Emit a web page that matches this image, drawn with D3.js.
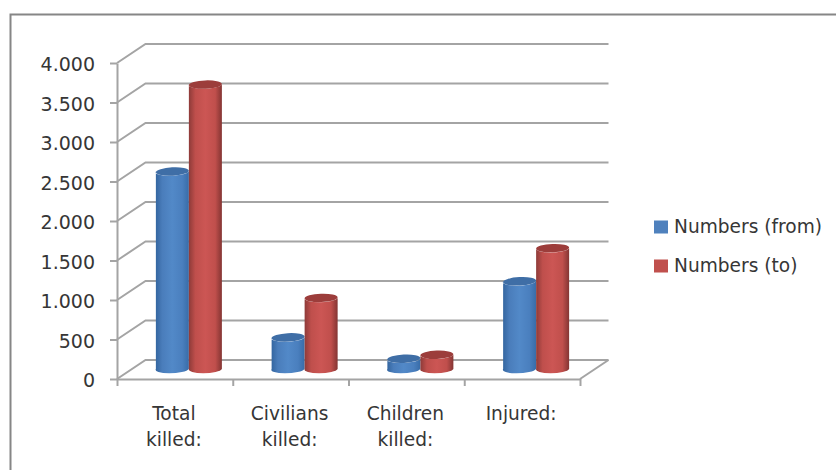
<!DOCTYPE html>
<html>
<head>
<meta charset="utf-8">
<script src="https://cdn.jsdelivr.net/npm/d3@7/dist/d3.min.js"></script>
<style>
html,body{margin:0;padding:0;background:#fff;overflow:hidden}
svg{display:block}
text{font-family:"DejaVu Sans",sans-serif;fill:#363636}
</style>
</head>
<body>
<svg id="chart" width="836" height="470"></svg>
<script>
// Casualty figures, low and high estimates per category
const categories = [["Total","killed:"],["Civilians","killed:"],["Children","killed:"],["Injured:"]];
const numbersFrom = [2500, 400, 130, 1110];
const numbersTo = [3600, 900, 180, 1530];
const seriesNames = ["Numbers (from)", "Numbers (to)"];
const yTicks = [0, 500, 1000, 1500, 2000, 2500, 3000, 3500, 4000];

const svg = d3.select("#chart");
const depth = {x: 28.5, y: 19};
const gridColor = "#a4a4a4";

const y = d3.scaleLinear().domain([0, 4000]).range([379, 63]);
const x = d3.scaleBand().domain(d3.range(categories.length)).range([117, 580]);
const inner = d3.scaleBand().domain([0, 1]).range([0, 66]);
const fmt = d3.formatLocale({decimal: ",", thousands: ".", grouping: [3], currency: ["", ""]}).format(",");

// Gradients give the cylinders their rounded shading
const defs = svg.append("defs");
const palette = [
  {id: "blueSide", stops: ["#33659f", "#4a7dbb", "#5289c8", "#4a7fbe", "#386ca8"], cap: "#3f6ea6"},
  {id: "redSide", stops: ["#8d3a38", "#bf4f4c", "#cc5654", "#c04f4c", "#843533"], cap: "#9c3d3b"}
];
palette.forEach(p => {
  const g = defs.append("linearGradient").attr("id", p.id);
  [0, 0.2, 0.5, 0.8, 1].forEach((o, i) => g.append("stop").attr("offset", o).attr("stop-color", p.stops[i]));
});

// Outer chart frame, open at the right and bottom page edges
svg.append("path").attr("d", "M10.5,470V14.5H836").attr("fill", "none")
  .attr("stroke", "#868686").attr("stroke-width", 2);

// Side wall, back wall gridlines
const walls = svg.append("g").attr("fill", "none").attr("stroke", gridColor).attr("stroke-width", 2);
yTicks.forEach(t => {
  walls.append("path").attr("d", d3.line()([
    [x.range()[0], y(t)],
    [x.range()[0] + depth.x, y(t) - depth.y],
    [x.range()[1] + depth.x, y(t) - depth.y]
  ]));
});
walls.append("path").attr("d", d3.line()([
  [x.range()[1], y(0)],
  [x.range()[1] + depth.x, y(0) - depth.y]
]));

// Value axis
const yAxis = svg.append("g").attr("transform", `translate(${x.range()[0]},0)`)
  .call(d3.axisLeft(y).tickValues(yTicks).tickFormat(fmt).tickSize(7).tickSizeOuter(0).tickPadding(15));
yAxis.selectAll("path,line").attr("stroke", gridColor).attr("stroke-width", 2);
yAxis.selectAll("text").attr("font-size", 19).attr("dy", "0.42em")
  .style("font-family", '"DejaVu Sans",sans-serif').attr("fill", "#363636");

// Category axis: ticks mark band edges
const edges = d3.range(categories.length + 1).map(i => x.range()[0] + i * x.step());
const xAxis = svg.append("g").attr("transform", `translate(0,${y(0)})`)
  .call(d3.axisBottom(d3.scaleLinear().domain(x.range()).range(x.range()))
    .tickValues(edges).tickFormat("").tickSize(7).tickSizeOuter(0));
xAxis.selectAll("path,line").attr("stroke", gridColor).attr("stroke-width", 2);

categories.forEach((lines, i) => {
  const t = svg.append("text").attr("text-anchor", "middle").attr("font-size", 18.6);
  lines.forEach((line, k) => {
    t.append("tspan").attr("x", x(i) + x.bandwidth() / 2 - 1)
      .attr("y", 420 + k * 25.5).text(line);
  });
});

// One cylinder per value; the front-to-back offset places it mid-depth on the floor
const rx = inner.bandwidth() / 2, ry = 4.2;
const offX = 14, offY = 10;
function cylinder(g, cx, v, p, tilt) {
  const x0 = cx - rx, x1 = cx + rx;
  const base = y(0) - offY, top = y(v) - offY;
  g.append("path")
    .attr("d", `M${x0},${top}L${x0},${base}A${rx},${ry} ${tilt} 0 0 ${x1},${base}L${x1},${top}A${rx},${ry} ${tilt} 0 1 ${x0},${top}Z`)
    .attr("fill", `url(#${p.id})`);
  g.append("ellipse").attr("cx", 0).attr("cy", 0).attr("rx", rx).attr("ry", ry)
    .attr("transform", `translate(${cx},${top}) rotate(${tilt})`)
    .attr("fill", p.cap);
}

const bars = svg.append("g");
categories.forEach((_, i) => {
  const start = x(i) + x.bandwidth() / 2 + offX - 33;
  cylinder(bars, start + inner(0) + rx, numbersFrom[i], palette[0], -3);
  cylinder(bars, start + inner(1) + rx, numbersTo[i], palette[1], -2);
});

// Legend
const legend = svg.append("g");
seriesNames.forEach((name, i) => {
  const ly = 227 + i * 39;
  legend.append("rect").attr("x", 654).attr("y", ly - 6.5).attr("width", 14).attr("height", 13)
    .attr("fill", i ? "#c0504d" : "#4f81bd");
  legend.append("text").attr("x", 674).attr("y", ly + 6).attr("font-size", 18.6).text(name);
});
</script>
</body>
</html>
